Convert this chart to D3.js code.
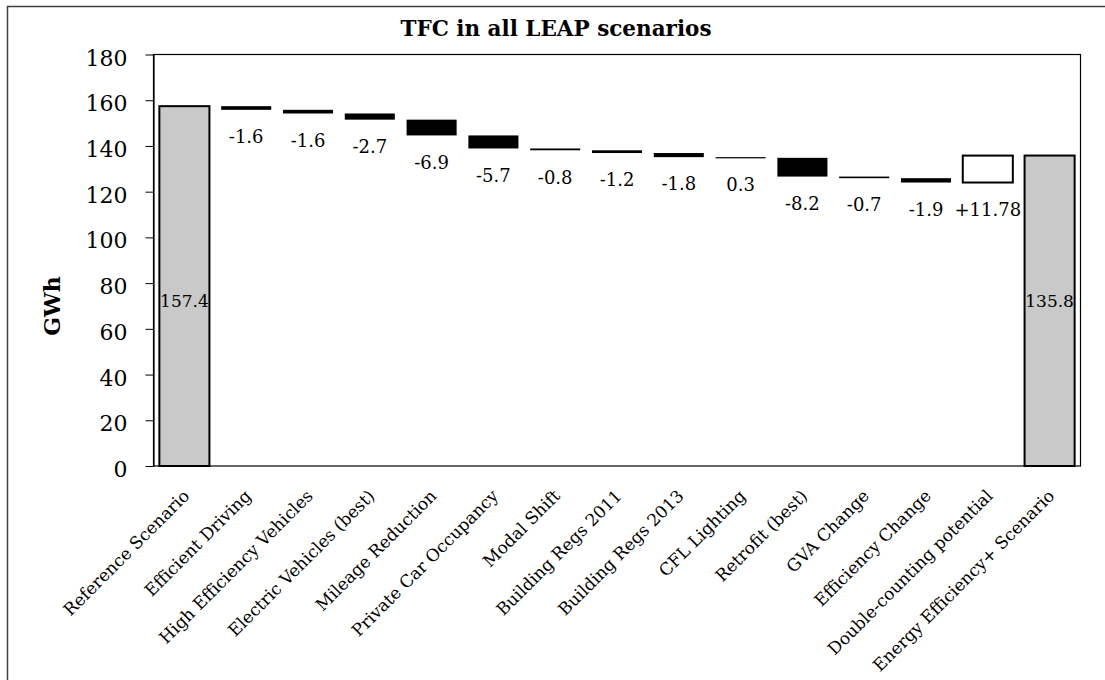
<!DOCTYPE html>
<html>
<head>
<meta charset="utf-8">
<script src="https://cdn.jsdelivr.net/npm/d3@7"></script>
<style>
  body { margin: 0; background: #fff; }
  svg { display: block; }
</style>
</head>
<body>
<div id="chart"></div>
<script>
// chart data (GWh)
const categories = [
  "Reference Scenario", "Efficient Driving", "High Efficiency Vehicles",
  "Electric Vehicles (best)", "Mileage Reduction", "Private Car Occupancy",
  "Modal Shift", "Building Regs 2011", "Building Regs 2013", "CFL Lighting",
  "Retrofit (best)", "GVA Change", "Efficiency Change",
  "Double-counting potential", "Energy Efficiency+ Scenario"
];
const referenceTotal = 157.4;
const finalTotal = 135.8;
// step changes between the two totals (last one is the double-counting add-back)
const deltas = [-1.6, -1.6, -2.7, -6.9, -5.7, -0.8, -1.2, -1.8, -0.3, -8.2, -0.7, -1.9, 11.78];
const deltaLabels = ["-1.6", "-1.6", "-2.7", "-6.9", "-5.7", "-0.8", "-1.2", "-1.8", "0.3", "-8.2", "-0.7", "-1.9", "+11.78"];
const yTicks = [0, 20, 40, 60, 80, 100, 120, 140, 160, 180];

const width = 1105, height = 680;
const plot = { left: 153.5, top: 54.5, right: 1080.5, bottom: 466 };
const serif = "'DejaVu Serif', serif";

// build waterfall rows
let running = referenceTotal;
const rows = [{ name: categories[0], y0: 0, y1: referenceTotal, kind: "total", label: "157.4" }];
deltas.forEach((d, i) => {
  const start = running;
  running = start + d;
  rows.push({
    name: categories[i + 1],
    y0: Math.min(start, running),
    y1: Math.max(start, running),
    kind: d > 0 ? "adjust" : "step",
    label: deltaLabels[i]
  });
});
rows.push({ name: categories[14], y0: 0, y1: finalTotal, kind: "total", label: "135.8" });

const svg = d3.select("#chart").append("svg")
  .attr("width", width)
  .attr("height", height);

// chart area frame
svg.append("rect")
  .attr("x", 7.5).attr("y", 6.5)
  .attr("width", width + 20).attr("height", height + 20)
  .attr("fill", "none")
  .attr("stroke", "#404040")
  .attr("stroke-width", 1.5);

const x = d3.scaleBand()
  .domain(categories)
  .range([plot.left, plot.right])
  .paddingInner(0.19)
  .paddingOuter(0.095);

const y = d3.scaleLinear()
  .domain([0, 180])
  .range([plot.bottom, plot.top]);

// plot area border
svg.append("rect")
  .attr("x", plot.left).attr("y", plot.top)
  .attr("width", plot.right - plot.left)
  .attr("height", plot.bottom - plot.top)
  .attr("fill", "none")
  .attr("stroke", "#000")
  .attr("stroke-width", 1.2);

// bars
svg.selectAll(".bar")
  .data(rows)
  .enter()
  .append("rect")
  .attr("class", "bar")
  .attr("x", d => x(d.name))
  .attr("width", x.bandwidth())
  .attr("y", d => y(d.y1))
  .attr("height", d => Math.max(1.2, y(d.y0) - y(d.y1)))
  .attr("fill", d => d.kind === "total" ? "#c9c9c9" : d.kind === "adjust" ? "#fff" : "#000")
  .attr("stroke", d => d.kind === "step" ? "none" : "#000")
  .attr("stroke-width", 2);

// value labels for the steps, under each bar
svg.selectAll(".step-label")
  .data(rows.filter(d => d.kind !== "total"))
  .enter()
  .append("text")
  .attr("class", "step-label")
  .attr("x", d => x(d.name) + x.bandwidth() / 2)
  .attr("y", d => y(d.y0) + 27)
  .attr("dy", "0.35em")
  .attr("text-anchor", "middle")
  .style("font-family", serif)
  .style("font-size", "18px")
  .text(d => d.label);

// total labels inside the grey bars
svg.selectAll(".total-label")
  .data(rows.filter(d => d.kind === "total"))
  .enter()
  .append("text")
  .attr("class", "total-label")
  .attr("x", d => x(d.name) + x.bandwidth() / 2)
  .attr("y", y(72))
  .attr("dy", "0.35em")
  .attr("text-anchor", "middle")
  .style("font-family", serif)
  .style("font-size", "17px")
  .text(d => d.label);

// y axis
const yAxis = svg.append("g")
  .attr("transform", `translate(${plot.left},0)`)
  .call(d3.axisLeft(y).tickValues(yTicks).tickSize(8).tickSizeOuter(0).tickPadding(18));
yAxis.select(".domain").attr("stroke", "#000").attr("stroke-width", 1.2);
yAxis.selectAll(".tick line").attr("stroke", "#000");
yAxis.selectAll(".tick text")
  .attr("dy", "0.48em")
  .style("font-family", serif)
  .style("font-size", "22px")
  .attr("fill", "#000");

// x axis category labels
const xAxis = svg.append("g")
  .attr("transform", `translate(0,${plot.bottom})`)
  .call(d3.axisBottom(x).tickSize(0));
xAxis.select(".domain").remove();
xAxis.selectAll(".tick text")
  .attr("y", null)
  .attr("dy", null)
  .attr("transform", "translate(6,31) rotate(-45)")
  .style("text-anchor", "end")
  .style("font-family", serif)
  .style("font-size", "17px")
  .attr("fill", "#000");

// axis title
svg.append("text")
  .attr("transform", "translate(52,306) rotate(-90)")
  .attr("dy", "0.35em")
  .attr("text-anchor", "middle")
  .style("font-family", serif)
  .style("font-weight", "bold")
  .style("font-size", "22px")
  .text("GWh");

// chart title
svg.append("text")
  .attr("x", 556)
  .attr("y", 28)
  .attr("dy", "0.35em")
  .attr("text-anchor", "middle")
  .style("font-family", serif)
  .style("font-weight", "bold")
  .style("font-size", "21.5px")
  .text("TFC in all LEAP scenarios");
</script>
</body>
</html>
